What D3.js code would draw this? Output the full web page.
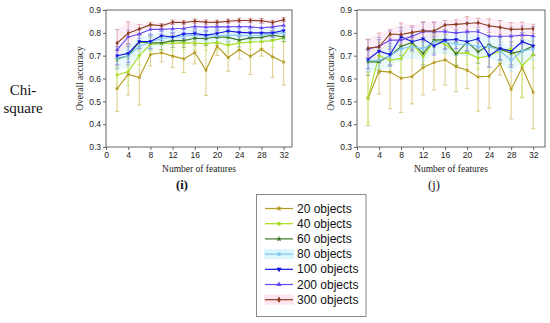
<!DOCTYPE html>
<html><head><meta charset="utf-8">
<script src="https://cdn.jsdelivr.net/npm/d3@7"></script>
<style>body{margin:0;background:#fff}svg{display:block}</style>
</head><body>
<svg id="c" width="550" height="323"></svg>
<script>
const features = [2,4,6,8,10,12,14,16,18,20,22,24,26,28,30,32];
const seriesNames = ["20 objects","40 objects","60 objects","80 objects","100 objects","200 objects","300 objects"];
const seriesColors = ["#b49a1e","#a6dc1e","#3f7a2a","#7fc6f2","#1414e0","#6a48f0","#8a3a1c"];
const errColors = ["#d6c06a","#c8ec70","#8ab070","#b6e2f8","#8080f0","#a898f6","#d89a9a"];
const seriesSymbols = [d3.symbolStar,d3.symbolCircle,d3.symbolStar,d3.symbolCircle,d3.symbolTriangle,d3.symbolTriangle,d3.symbolDiamond];
const yTicks = [0.3,0.4,0.5,0.6,0.7,0.8,0.9];
const xTicks = [0,4,8,12,16,20,24,28,32];

// Panel (i) Chi-square
const meanI = [
 [0.556,0.618,0.604,0.705,0.713,0.698,0.686,0.714,0.636,0.741,0.692,0.726,0.697,0.728,0.695,0.672],
 [0.615,0.630,0.700,0.750,0.752,0.755,0.756,0.755,0.752,0.758,0.746,0.755,0.760,0.762,0.766,0.778],
 [0.685,0.700,0.760,0.756,0.756,0.766,0.766,0.776,0.775,0.782,0.780,0.768,0.778,0.780,0.790,0.782],
 [0.690,0.700,0.740,0.760,0.775,0.780,0.785,0.790,0.785,0.787,0.790,0.790,0.786,0.790,0.795,0.800],
 [0.700,0.710,0.762,0.762,0.787,0.782,0.795,0.797,0.790,0.797,0.808,0.802,0.800,0.800,0.800,0.810],
 [0.725,0.782,0.795,0.815,0.815,0.818,0.820,0.828,0.825,0.827,0.826,0.828,0.826,0.822,0.826,0.833],
 [0.755,0.798,0.817,0.836,0.831,0.846,0.845,0.851,0.847,0.846,0.851,0.854,0.854,0.853,0.845,0.857]
];
const errI = [
 [0.10,0.09,0.12,0.05,0.04,0.05,0.06,0.05,0.11,0.04,0.06,0.04,0.08,0.03,0.09,0.10],
 [0.06,0.06,0.04,0.03,0.03,0.03,0.03,0.03,0.03,0.03,0.03,0.03,0.03,0.03,0.03,0.02],
 [0.04,0.04,0.03,0.03,0.03,0.03,0.03,0.03,0.03,0.03,0.02,0.03,0.02,0.02,0.02,0.02],
 [0.05,0.05,0.04,0.03,0.03,0.03,0.03,0.03,0.03,0.03,0.03,0.03,0.03,0.03,0.03,0.03],
 [0.04,0.04,0.03,0.03,0.02,0.02,0.02,0.02,0.02,0.02,0.02,0.02,0.02,0.02,0.02,0.02],
 [0.03,0.03,0.02,0.02,0.02,0.02,0.02,0.02,0.02,0.02,0.02,0.02,0.02,0.02,0.02,0.02],
 [0.06,0.05,0.02,0.01,0.01,0.01,0.01,0.01,0.01,0.01,0.01,0.01,0.01,0.01,0.01,0.01]
];
// Panel (j)
const meanJ = [
 [0.513,0.632,0.628,0.601,0.609,0.648,0.670,0.682,0.652,0.636,0.607,0.610,0.665,0.553,0.648,0.540],
 [0.515,0.700,0.680,0.688,0.755,0.695,0.765,0.750,0.710,0.712,0.690,0.700,0.720,0.730,0.655,0.705],
 [0.673,0.673,0.700,0.740,0.758,0.710,0.768,0.770,0.707,0.760,0.717,0.746,0.728,0.710,0.720,0.742],
 [0.680,0.680,0.700,0.730,0.740,0.730,0.760,0.760,0.750,0.750,0.740,0.740,0.720,0.680,0.720,0.730],
 [0.683,0.720,0.705,0.783,0.761,0.774,0.743,0.768,0.771,0.761,0.774,0.700,0.732,0.720,0.761,0.743],
 [0.730,0.740,0.768,0.768,0.785,0.805,0.805,0.805,0.800,0.805,0.805,0.785,0.785,0.785,0.790,0.787],
 [0.732,0.739,0.795,0.793,0.802,0.809,0.808,0.834,0.837,0.841,0.844,0.831,0.824,0.815,0.817,0.818]
];
const errJ = [
 [0.12,0.10,0.16,0.15,0.12,0.12,0.12,0.11,0.11,0.08,0.15,0.14,0.05,0.13,0.13,0.16],
 [0.11,0.06,0.05,0.06,0.04,0.05,0.05,0.04,0.05,0.05,0.05,0.05,0.04,0.05,0.14,0.06],
 [0.06,0.05,0.04,0.04,0.03,0.05,0.03,0.04,0.05,0.04,0.05,0.04,0.05,0.05,0.05,0.04],
 [0.05,0.05,0.05,0.05,0.05,0.05,0.05,0.05,0.05,0.05,0.05,0.05,0.05,0.05,0.05,0.05],
 [0.04,0.05,0.05,0.04,0.04,0.04,0.04,0.04,0.04,0.04,0.04,0.05,0.05,0.07,0.04,0.04],
 [0.04,0.04,0.04,0.04,0.04,0.04,0.04,0.03,0.04,0.04,0.04,0.04,0.04,0.04,0.04,0.04],
 [0.04,0.06,0.02,0.05,0.03,0.04,0.04,0.02,0.02,0.03,0.02,0.03,0.03,0.03,0.03,0.02]
];

const svg = d3.select("#c");
const serif = "'Liberation Serif','Times New Roman',serif";
const sans = "'Liberation Sans',Arial,sans-serif";

function panel(x0, x1, xMax, means, errs, label, labelX, bold) {
  const top = 10, bottom = 147;
  const x = d3.scaleLinear().domain([0, xMax]).range([x0, x1]);
  const y = d3.scaleLinear().domain([0.3, 0.9]).range([bottom, top]);
  const g = svg.append("g");
  [3,6].forEach(si => {
    const fill = si === 3 ? "#c8f0fa" : "#fbd8ea";
    g.append("path")
      .datum(features.map((f,i)=>({f, lo: means[si][i]-errs[si][i], hi: means[si][i]+errs[si][i]})))
      .attr("d", d3.area().x(d=>x(d.f)).y0(d=>y(d.lo)).y1(d=>y(d.hi)))
      .attr("fill", fill).attr("opacity", 0.4);
  });
  means.forEach((m, si) => {
    const eg = g.append("g").attr("stroke", errColors[si]).attr("stroke-width", 0.8);
    features.forEach((f, i) => {
      const lo = Math.max(0.3, m[i]-errs[si][i]), hi = m[i]+errs[si][i];
      const cx = x(f);
      eg.append("line").attr("x1", cx).attr("x2", cx).attr("y1", y(lo)).attr("y2", y(hi));
      eg.append("line").attr("x1", cx-2.2).attr("x2", cx+2.2).attr("y1", y(hi)).attr("y2", y(hi));
      if (m[i]-errs[si][i] >= 0.3)
        eg.append("line").attr("x1", cx-2.2).attr("x2", cx+2.2).attr("y1", y(lo)).attr("y2", y(lo));
    });
  });
  means.forEach((m, si) => {
    g.append("path").datum(m)
      .attr("d", d3.line().x((d,i)=>x(features[i])).y(d=>y(d)))
      .attr("fill","none").attr("stroke", seriesColors[si]).attr("stroke-width", 1.1);
    g.selectAll(null).data(m).join("path")
      .attr("transform",(d,i)=>`translate(${x(features[i])},${y(d)})` + (si===4?" rotate(180)":""))
      .attr("d", d3.symbol().type(seriesSymbols[si]).size(7))
      .attr("fill", seriesColors[si]);
  });
  g.append("rect").attr("x", x0).attr("y", top).attr("width", x1-x0).attr("height", bottom-top)
    .attr("fill","none").attr("stroke","#666").attr("stroke-width",1);
  const xa = g.append("g").attr("transform",`translate(0,${bottom})`)
    .call(d3.axisBottom(x).tickValues(xTicks).tickSize(3).tickPadding(2).tickFormat(d3.format("d")));
  const ya = g.append("g").attr("transform",`translate(${x0},0)`)
    .call(d3.axisLeft(y).tickValues(yTicks).tickSize(3).tickPadding(2).tickFormat(d3.format(".1f")));
  [xa, ya].forEach(a => {
    a.select(".domain").remove();
    a.selectAll("line").attr("stroke","#666");
    a.selectAll("text").attr("font-family", sans).attr("font-size", 8.5).attr("fill","#222");
  });
  g.append("text").attr("x",(x0+x1)/2).attr("y",172).attr("text-anchor","middle")
    .attr("font-family",serif).attr("font-size",9.5).attr("fill","#222").text("Number of features");
  g.append("text").attr("transform",`translate(${x0-23},${(top+bottom)/2}) rotate(-90)`)
    .attr("text-anchor","middle").attr("font-family",serif).attr("font-size",9.5).attr("fill","#222")
    .text("Overall accuracy");
  g.append("text").attr("x",labelX).attr("y",189).attr("text-anchor","middle")
    .attr("font-family",serif).attr("font-size",12.5).attr("font-weight", bold ? "bold" : "normal")
    .attr("fill","#111").text(label);
}

panel(106, 292, 33.5, meanI, errI, "(i)", 182, true);
panel(357, 545, 34.15, meanJ, errJ, "(j)", 434, false);

svg.append("text").attr("x",23).attr("y",95).attr("text-anchor","middle")
  .attr("font-family",serif).attr("font-size",15).attr("fill","#111").text("Chi-");
svg.append("text").attr("x",23).attr("y",113).attr("text-anchor","middle")
  .attr("font-family",serif).attr("font-size",15).attr("fill","#111").text("square");

const lg = svg.append("g");
lg.append("rect").attr("x",256.5).attr("y",194.5).attr("width",109.5).attr("height",122)
  .attr("fill","#fff").attr("stroke","#888").attr("stroke-width",1);
seriesNames.forEach((name, si) => {
  const cy = 208.5 + si*15.2;
  if (si === 3 || si === 6) {
    lg.append("rect").attr("x",264).attr("y",cy-5).attr("width",30).attr("height",10)
      .attr("fill", si===3 ? "#dcf5fc" : "#fde6f2");
  }
  lg.append("line").attr("x1",265).attr("x2",293).attr("y1",cy).attr("y2",cy)
    .attr("stroke", seriesColors[si]).attr("stroke-width",1.2);
  lg.append("path").attr("transform",`translate(279,${cy})` + (si===4?" rotate(180)":""))
    .attr("d", d3.symbol().type(seriesSymbols[si]).size(12)).attr("fill", seriesColors[si]);
  lg.append("text").attr("x",297).attr("y",cy+4).attr("font-family",sans).attr("font-size",12)
    .attr("fill","#111").text(name);
});
</script>
</body></html>
